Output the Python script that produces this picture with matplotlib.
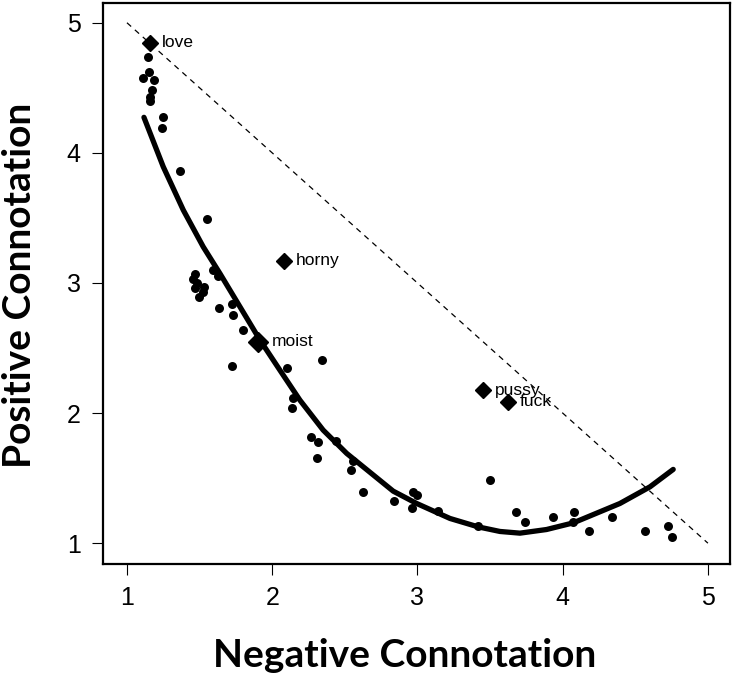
import matplotlib
matplotlib.use("Agg")
import matplotlib.pyplot as plt

# words rated on both scales (circles)
neg_x = [1.147, 1.154, 1.112, 1.186, 1.174, 1.158, 1.158, 1.246, 1.239, 1.365,
         1.549, 1.590, 1.629, 1.468, 1.456, 1.480, 1.468, 1.530, 1.498, 1.525,
         1.635, 1.721, 1.728, 1.801, 1.725, 2.099, 2.345, 2.141, 2.134, 2.267,
         2.317, 2.306, 2.439, 2.554, 2.542, 2.627, 2.838, 2.971, 2.994, 2.964,
         3.143, 3.419, 3.499, 3.678, 3.740, 3.931, 4.077, 4.073, 4.181, 4.341,
         4.566, 4.723, 4.754]
pos_y = [4.734, 4.623, 4.573, 4.560, 4.483, 4.427, 4.398, 4.278, 4.193, 3.862,
         3.489, 3.099, 3.053, 3.066, 3.027, 2.997, 2.958, 2.966, 2.889, 2.932,
         2.804, 2.835, 2.753, 2.638, 2.361, 2.348, 2.407, 2.112, 2.036, 1.817,
         1.779, 1.656, 1.784, 1.630, 1.561, 1.394, 1.325, 1.390, 1.369, 1.267,
         1.248, 1.131, 1.484, 1.236, 1.159, 1.198, 1.238, 1.161, 1.092, 1.198,
         1.090, 1.131, 1.050]

# highlighted words (diamonds)
words = ["love", "horny", "moist", "pussy", "fuck"]
word_x = [1.158, 2.081, 1.904, 3.453, 3.625]
word_y = [4.846, 3.170, 2.548, 2.176, 2.086]
word_size = [8, 8, 10, 8, 8]

# fitted curve
fit_x = [1.117, 1.250, 1.388, 1.525, 1.640, 1.778, 1.916, 2.053, 2.191,
         2.351, 2.513, 2.833, 2.995, 3.224, 3.419, 3.568, 3.706, 3.889,
         4.073, 4.394, 4.601, 4.761]
fit_y = [4.273, 3.893, 3.560, 3.278, 3.073, 2.817, 2.561, 2.330, 2.099,
         1.869, 1.690, 1.400, 1.305, 1.190, 1.125, 1.090, 1.077, 1.105,
         1.156, 1.305, 1.433, 1.567]

ticks = [1, 2, 3, 4, 5]

plt.rcParams["font.family"] = ["Liberation Sans", "DejaVu Sans"]

fig = plt.figure(figsize=(7.33, 6.76), dpi=100)
ax = fig.add_axes([0.1405, 0.1657, 0.8554, 0.8299])

# reference line x + y = 6
ax.plot([1, 5], [5, 1], color="black", linestyle=(0, (4.5, 4)), linewidth=0.9)
ax.plot(fit_x, fit_y, color="black", linewidth=3.8, solid_capstyle="round",
        solid_joinstyle="round")
ax.scatter(neg_x, pos_y, s=42, color="black", zorder=3, linewidths=0)

for w, x, y, ms in zip(words, word_x, word_y, word_size):
    ax.plot(x, y, marker="D", markersize=ms, color="black", zorder=4)
    ax.annotate(w, (x, y), xytext=(8.5 if ms < 10 else 9.5, 0),
                textcoords="offset points", ha="left", va="center",
                fontsize=12.5, zorder=5)

ax.set_xlim(0.835, 5.152)
ax.set_ylim(0.84, 5.152)
ax.set_xticks(ticks)
ax.set_yticks(ticks)
ax.tick_params(length=8, width=0.8, pad=8, labelsize=18)
for sp in ax.spines.values():
    sp.set_linewidth(1.6)

fig.text(0.5525, 0.031, "Negative Connotation", ha="center", va="center",
         fontsize=28, fontweight="bold", family=["Lato", "DejaVu Sans"])
fig.text(0.026, 0.578, "Positive Connotation", ha="center", va="center",
         rotation=90, fontsize=28, fontweight="bold", family=["Lato", "DejaVu Sans"])

fig.savefig("out.png", dpi=100)
